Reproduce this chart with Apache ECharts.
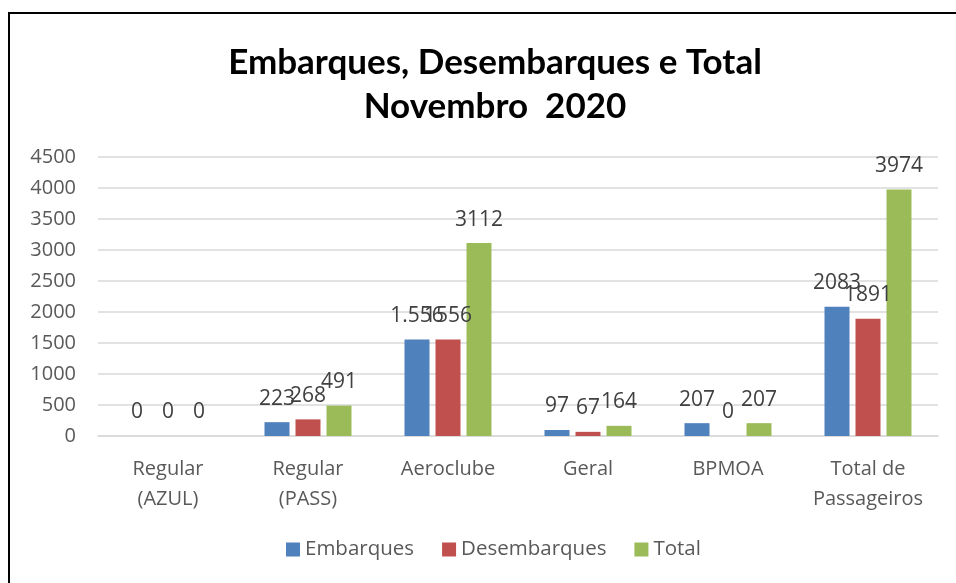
<!DOCTYPE html>
<html>
<head>
<meta charset="utf-8">
<script src="https://cdn.jsdelivr.net/npm/echarts@6/dist/echarts.min.js"></script>
<style>
  html, body { margin: 0; padding: 0; background: #fff; }
  #frame { position: absolute; left: 8px; top: 12px; width: 960px; height: 580px;
           border-top: 2px solid #000; border-left: 2px solid #000; }
  #chart { position: absolute; left: 0; top: 0; width: 956px; height: 583px; }
</style>
</head>
<body>
<div id="frame"></div>
<div id="chart"></div>
<script>
// --- data ---
const categories = ['Regular\n(AZUL)', 'Regular\n(PASS)', 'Aeroclube', 'Geral', 'BPMOA', 'Total de\nPassageiros'];
const embarques = [0, 223, 1556, 97, 207, 2083];
const embarquesLabels = ['0', '223', '1.556', '97', '207', '2083'];
const desembarques = [0, 268, 1556, 67, 0, 1891];
const total = [0, 491, 3112, 164, 207, 3974];
const yTicks = [0, 500, 1000, 1500, 2000, 2500, 3000, 3500, 4000, 4500];

const chart = echarts.init(document.getElementById('chart'));
const titleFont = 'Lato, sans-serif';
const bodyFont = '"Open Sans", sans-serif';
const labelStyle = { show: true, position: 'top', distance: 13, color: '#404040', fontSize: 21, fontFamily: bodyFont };

chart.setOption({
    animation: false,
    title: {
        text: 'Embarques, Desembarques e Total\nNovembro  2020',
        left: 490, top: 36, textAlign: 'center', // the original sits right of centre
        textStyle: { fontSize: 35, fontWeight: 'bold', color: '#000', fontFamily: titleFont, lineHeight: 44 }
    },
    legend: {
        bottom: 18, left: 281,
        itemWidth: 14, itemHeight: 14, itemGap: 28, icon: 'rect',
        textStyle: { fontSize: 20.5, color: '#595959', fontFamily: bodyFont },
        data: ['Embarques', 'Desembarques', 'Total']
    },
    grid: { left: 98, right: 18, top: 157, bottom: 147, containLabel: false },
    xAxis: {
        type: 'category', data: categories,
        axisLine: { lineStyle: { color: '#d9d9d9', width: 1.5 } },
        axisTick: { show: false },
        axisLabel: { interval: 0, fontSize: 20, color: '#595959', fontFamily: bodyFont, lineHeight: 30, margin: 18 }
    },
    yAxis: {
        type: 'value', min: yTicks[0], max: yTicks[yTicks.length - 1], interval: 500,
        axisLine: { show: false }, axisTick: { show: false },
        splitLine: { lineStyle: { color: '#d9d9d9', width: 1.5 } },
        axisLabel: { fontSize: 20, color: '#595959', fontFamily: bodyFont, margin: 22, formatter: v => String(v) }
    },
    series: [
        { name: 'Embarques', type: 'bar', data: embarques, barWidth: 25, barGap: '24%',
          itemStyle: { color: '#4f81bd' },
          label: { ...labelStyle, formatter: p => embarquesLabels[p.dataIndex] } },
        { name: 'Desembarques', type: 'bar', data: desembarques, barWidth: 25, barGap: '24%',
          itemStyle: { color: '#c0504d' }, label: labelStyle },
        { name: 'Total', type: 'bar', data: total, barWidth: 25, barGap: '24%',
          itemStyle: { color: '#9bbb59' }, label: labelStyle }
    ]
});
</script>
</body>
</html>
